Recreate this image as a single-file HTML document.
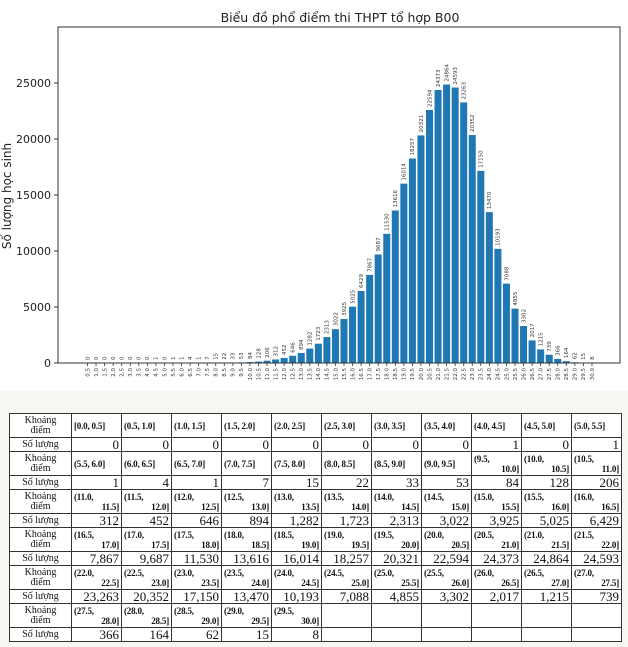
<!DOCTYPE html>
<html><head><meta charset="utf-8">
<style>
body{margin:0;width:628px;height:647px;background:#f8f7f4;overflow:hidden;font-family:"DejaVu Sans","Liberation Sans",sans-serif}
#chart{position:absolute;left:0;top:0;width:628px;height:391px;background:#fff}
table{position:absolute;left:9px;top:413px;border-collapse:collapse;background:#fff;font-family:"Liberation Serif",serif;table-layout:fixed}
td{border:1px solid #333;padding:0 2px;font-size:11px;color:#111;line-height:10px}
td.h{text-align:center;font-size:10px;line-height:10px}
td.k{text-align:left;font-weight:bold;font-size:9px;letter-spacing:-0.2px}
td.n{text-align:right;font-size:13px;font-weight:normal}
tr.a td{height:23px}
tr.b td{height:13px}
</style></head><body>
<svg id="chart" width="628" height="391" xmlns="http://www.w3.org/2000/svg"></svg>
<table id="t"></table>
<script>
var c=[0,0,0,0,0,0,0,0,1,0,1,1,4,1,7,15,22,33,53,84,128,206,312,452,646,894,1282,1723,2313,3022,3925,5025,6429,7867,9687,11530,13616,16014,18257,20321,22594,24373,24864,24593,23263,20352,17150,13470,10193,7088,4855,3302,2017,1215,739,366,164,62,15,8];
var L=58,R=620,T=27,B=363,k=(B-83)/25000,s='';
s+='<text x="340" y="22" font-size="12.5" text-anchor="middle" fill="#222">Biểu đồ phổ điểm thi THPT tổ hợp B00</text>';
s+='<text transform="translate(11,196) rotate(-90)" font-size="12" text-anchor="middle" fill="#222">Số lượng học sinh</text>';
for(var v=0;v<=25000;v+=5000){var y=B-v*k;s+='<line x1="'+(L-4)+'" x2="'+L+'" y1="'+y+'" y2="'+y+'" stroke="#333"/><text x="'+(L-7)+'" y="'+(y+4)+'" font-size="11" text-anchor="end" fill="#222">'+v+'</text>';}
for(var i=0;i<60;i++){var x=87.5+i*8.55,h=c[i]*k;
s+='<rect x="'+(x-3.5)+'" y="'+(B-h)+'" width="7" height="'+h+'" fill="#1f77b4"/>';
s+='<line x1="'+x+'" x2="'+x+'" y1="'+B+'" y2="'+(B+3)+'" stroke="#333" stroke-width="0.8"/>';
s+='<text transform="translate('+(x+1.8)+','+(B-h-3)+') rotate(-90)" font-size="5.5" fill="#333">'+c[i]+'</text>';
s+='<text transform="translate('+(x+1.8)+','+(B+5)+') rotate(-90)" font-size="5.5" text-anchor="end" fill="#333">'+((i+1)/2).toFixed(1)+'</text>';}
s+='<rect x="'+L+'" y="'+T+'" width="'+(R-L)+'" height="'+(B-T)+'" fill="none" stroke="#333" stroke-width="1"/>';
document.getElementById('chart').innerHTML=s;
function fmt(n){return n.toLocaleString('en-US');}
var t='<colgroup><col style="width:62px">';for(var j=0;j<11;j++)t+='<col style="width:50px">';t+='</colgroup>';
for(var r=0;r<6;r++){
 var a='<tr class="a"><td class="h">Khoảng<br>điểm</td>',b='<tr class="b"><td class="h">Số lượng</td>';
 for(var j=0;j<11;j++){var i=r*11+j;
  if(i<60){var lo=i/2,hi=(i+1)/2,lb=(i==0?'[':'(')+lo.toFixed(1)+', '+hi.toFixed(1)+']';
   if(lo>=9.5)lb=(i==0?'[':'(')+lo.toFixed(1)+',<br><span style="float:right">'+hi.toFixed(1)+']</span>';
   a+='<td class="k">'+lb+'</td>';b+='<td class="n">'+fmt(c[i])+'</td>';}
  else{a+='<td></td>';b+='<td></td>';}}
 t+=a+'</tr>'+b+'</tr>';}
document.getElementById('t').innerHTML=t;
</script>
</body></html>
